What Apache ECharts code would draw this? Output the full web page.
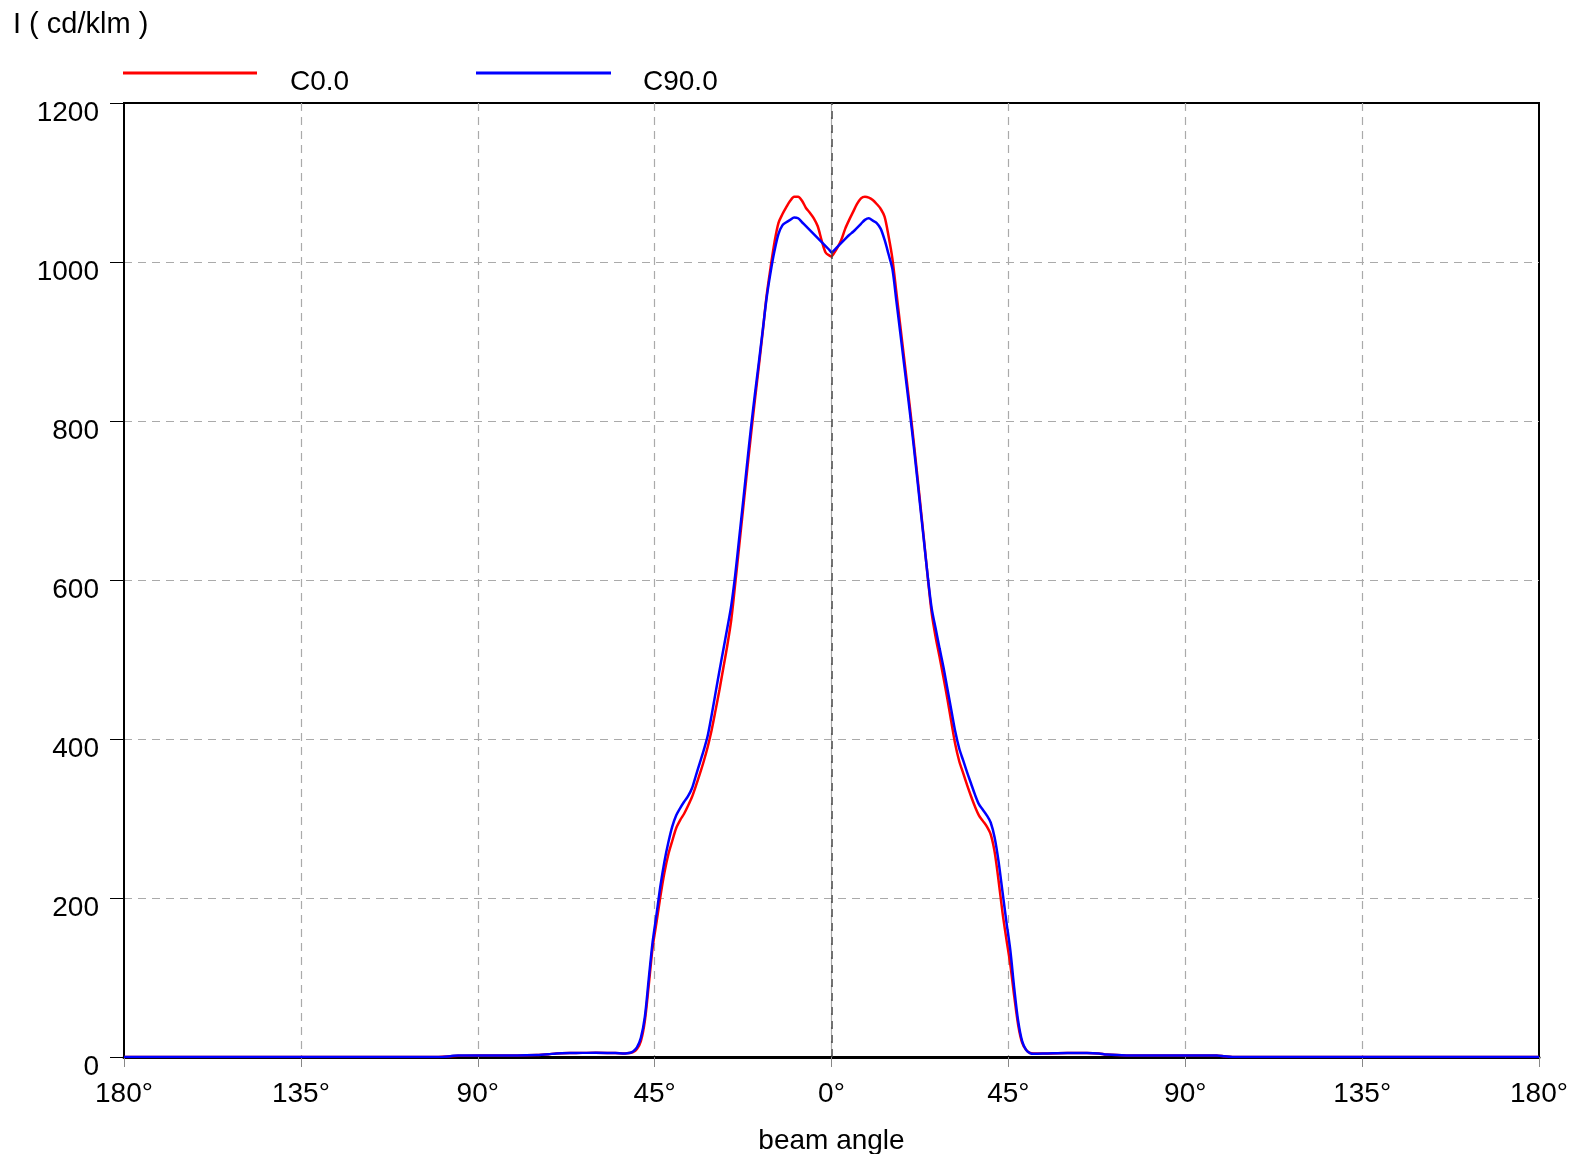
<!DOCTYPE html>
<html>
<head>
<meta charset="utf-8">
<script src="https://cdn.jsdelivr.net/npm/echarts@6/dist/echarts.min.js"></script>
<style>
html,body{margin:0;padding:0;background:#fff;}
#chart{width:1571px;height:1154px;}
</style>
</head>
<body>
<div id="chart"></div>
<script>
// beam angle (signed degrees, label shows absolute value)
var angles = [
  -180, -100, -97, -95, -90, -85, -80, -75, -72, -70, -65, -60, -55, -52.5,
  -51.5, -50.5, -49.5, -48.5, -47.5, -46.5, -45.5, -44.5, -43.5, -42.5, -41.5,
  -40.5, -39.5, -38.5, -37.5, -36.5, -35.5, -34.5, -33.5, -32.5, -31.5, -30.5,
  -29.5, -28.5, -27.5, -26.5, -25.5, -24.5, -23.5, -22.5, -21.5, -20.5,
  -19.5, -18.5, -17.5, -16.5, -15.5, -14.5, -13.5, -12.5, -11.5, -10.5,
  -9.5, -8.5, -7.5, -6.5, -5.5, -4.5, -3.5, -2.5, -1.5,
  -0.5, 0,
  0.5, 1.5, 2.5, 3.5, 4.5, 5.5, 6.5, 7.5, 8.5, 9.5,
  10.5, 11.5, 12.5, 13.5, 14.5, 15.5, 16.5, 17.5, 18.5, 19.5,
  20.5, 21.5, 22.5, 23.5, 24.5, 25.5, 26.5, 27.5, 28.5, 29.5,
  30.5, 31.5, 32.5, 33.5, 34.5, 35.5, 36.5, 37.5, 38.5, 39.5,
  40.5, 41.5, 42.5, 43.5, 44.5, 45.5, 46.5, 47.5, 48.5, 49.5,
  50.5, 51.5,
  55, 60, 65, 68, 70, 75, 80, 85, 90, 95, 98, 100, 102, 180
];
// C0.0 intensity (cd/klm)
var c0 = [
  0, 0, 1, 1.5, 2, 2, 2, 2.5, 3.5, 4.5, 5, 5.5, 5, 4.5,
  5, 6, 10, 20, 45, 90, 138, 170, 203, 232, 255,
  272, 288, 298, 306, 316, 327, 341, 356, 372, 390, 411,
  436, 462, 490, 518, 550, 595, 642, 689, 736, 782,
  826, 868, 912, 958, 993, 1025, 1049, 1060, 1069, 1077,
  1082, 1082, 1077, 1068, 1062, 1055, 1045, 1027, 1012,
  1008, 1007,
  1010, 1018, 1028, 1042, 1053, 1063, 1073, 1080, 1082, 1081,
  1078, 1073, 1067, 1057, 1033, 1004, 962, 920, 878, 836,
  793, 747, 700, 652, 603, 558, 528, 503, 477, 450,
  421, 393, 372, 357, 342, 328, 315, 304, 297, 290,
  280, 258, 222, 182, 148, 116, 76, 40, 18, 9,
  5, 4.5,
  4.5, 5, 5, 4.5, 3, 2, 2, 2, 2, 2, 2, 1, 0, 0
];
// C90.0 intensity (cd/klm)
var c90 = [
  0, 0, 1, 2, 2, 2, 2, 2.5, 3.5, 4.5, 5, 5.5, 5, 4.5,
  5, 7, 12, 24, 50, 98, 145, 180, 216, 246, 270,
  290, 304, 313, 321, 328, 338, 354, 370, 386, 404, 430,
  458, 486, 513, 540, 568, 606, 652, 698, 745, 791,
  833, 873, 914, 955, 987, 1014, 1035, 1046, 1050, 1053,
  1056, 1055, 1050, 1045, 1040, 1035, 1030, 1025, 1020,
  1015, 1012,
  1014, 1019, 1024, 1029, 1034, 1038, 1043, 1048, 1053, 1055,
  1052, 1049, 1042, 1028, 1010, 991, 951, 911, 870, 829,
  787, 742, 696, 650, 604, 564, 539, 514, 490, 463,
  436, 409, 388, 373, 358, 344, 330, 318, 311, 304,
  295, 276, 246, 208, 170, 134, 86, 45, 20, 9,
  5, 4,
  4.5, 5, 5, 4.5, 3, 2, 2, 2, 2, 2, 2, 1, 0, 0
];
var seriesNames = ['C0.0', 'C90.0'];
var xTicks = { min: -180, max: 180, interval: 45 };
var yTicks = { min: 0, max: 1200, interval: 200 };

function pairs(vals) {
  return angles.map(function (a, i) { return [a, vals[i]]; });
}

var FONT = 'Liberation Sans, Arial, sans-serif';
var FS = 28;
var lowered = { fontFamily: FONT, fontSize: FS, color: '#000', padding: [18, 0, 0, 0] };
var loweredY = { fontFamily: FONT, fontSize: FS, color: '#000', padding: [20, 0, 0, 0] };
var chart = echarts.init(document.getElementById('chart'), null, { renderer: 'canvas' });
var gridGray = '#aaaaaa';
chart.setOption({
  backgroundColor: '#ffffff',
  animation: false,
  textStyle: { fontFamily: FONT },
  title: {
    text: 'I ( cd/klm )',
    left: 8,
    top: 5,
    textStyle: { fontFamily: FONT, fontSize: 29, fontWeight: 'normal', color: '#000' }
  },
  legend: [
    {
      data: [seriesNames[0]],
      left: 118, top: 63,
      icon: 'rect', itemWidth: 134, itemHeight: 3, itemGap: 0,
      formatter: '{a|{name}}',
      textStyle: { fontFamily: FONT, fontSize: FS, color: '#000', padding: [0, 0, 0, 28], rich: { a: lowered } }
    },
    {
      data: [seriesNames[1]],
      left: 471, top: 63,
      icon: 'rect', itemWidth: 135, itemHeight: 3, itemGap: 0,
      formatter: '{a|{name}}',
      textStyle: { fontFamily: FONT, fontSize: FS, color: '#000', padding: [0, 0, 0, 27], rich: { a: lowered } }
    }
  ],
  grid: {
    left: 124, right: 32, top: 103, bottom: 97,
    outerBoundsMode: 'none',
    show: true, borderColor: '#000', borderWidth: 2, backgroundColor: 'transparent'
  },
  xAxis: {
    type: 'value',
    min: xTicks.min, max: xTicks.max, interval: xTicks.interval,
    name: 'beam angle',
    nameLocation: 'middle',
    nameGap: 70,
    nameTextStyle: { fontFamily: FONT, fontSize: FS, color: '#000' },
    axisLine: { show: true, onZero: false, lineStyle: { color: '#000', width: 3 } },
    axisTick: { show: true, length: 10, lineStyle: { color: '#888', width: 1 } },
    axisLabel: {
      fontFamily: FONT, fontSize: FS, color: '#000', margin: 23,
      formatter: function (v) { return Math.abs(v) + '°'; }
    },
    splitLine: {
      show: true, showMinLine: false, showMaxLine: false,
      lineStyle: { type: [8, 6], width: 1.2, color: gridGray }
    }
  },
  yAxis: {
    type: 'value',
    min: yTicks.min, max: yTicks.max, interval: yTicks.interval,
    axisLine: { show: true, onZero: false, lineStyle: { color: '#000', width: 2 } },
    axisTick: { show: true, length: 14, lineStyle: { color: '#000', width: 1 } },
    axisLabel: {
      fontFamily: FONT, fontSize: FS, color: '#000', margin: 25,
      formatter: function (v) { return '{a|' + v + '}'; },
      rich: { a: loweredY }
    },
    splitLine: {
      show: true, showMinLine: false, showMaxLine: false,
      lineStyle: { type: [8, 6], width: 1.2, color: gridGray }
    }
  },
  series: [
    {
      name: seriesNames[0], type: 'line', data: pairs(c0),
      showSymbol: false, symbol: 'none', smooth: 0.3,
      lineStyle: { color: '#ff0000', width: 2.5 }, itemStyle: { color: '#ff0000' }, z: 3,
      markLine: {
        silent: true, symbol: 'none', animation: false,
        label: { show: false },
        lineStyle: { color: '#444444', type: [8, 6], width: 1.5 },
        data: [{ xAxis: 0 }]
      }
    },
    {
      name: seriesNames[1], type: 'line', data: pairs(c90),
      showSymbol: false, symbol: 'none', smooth: 0.3,
      lineStyle: { color: '#0000ff', width: 2.5 }, itemStyle: { color: '#0000ff' }, z: 4
    }
  ]
});
</script>
</body>
</html>
